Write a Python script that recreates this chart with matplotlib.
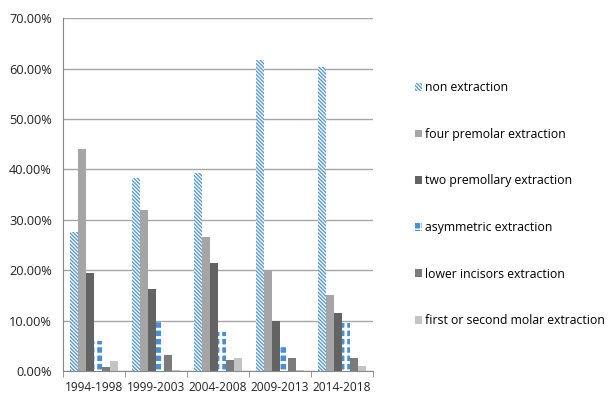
import numpy as np
import matplotlib.pyplot as plt
from matplotlib.ticker import FuncFormatter

plt.rcParams['font.family'] = ['Open Sans', 'DejaVu Sans']

# Share of each treatment type per 5-year period
periods = ['1994-1998', '1999-2003', '2004-2008', '2009-2013', '2014-2018']
non_extraction = [27.5, 38.3, 39.3, 61.7, 60.4]
four_premolar = [44.0, 32.0, 26.6, 20.0, 15.0]
two_premolar = [19.5, 16.2, 21.5, 10.0, 11.6]
asymmetric = [6.0, 9.7, 7.7, 5.2, 9.6]
lower_incisors = [0.8, 3.2, 2.2, 2.6, 2.6]
molar = [2.0, 0.2, 2.6, 0.2, 1.0]

labels = ['non extraction', 'four premolar extraction', 'two premollary extraction',
          'asymmetric extraction', 'lower incisors extraction',
          'first or second molar extraction']
series = [non_extraction, four_premolar, two_premolar, asymmetric,
          lower_incisors, molar]
styles = [
    dict(facecolor='white', edgecolor='#5b9bd5', hatch='\\' * 9, linewidth=0),
    dict(facecolor='#a5a5a5'),
    dict(facecolor='#636363'),
    dict(facecolor='#4a8fd4', edgecolor='white', hatch='++', linewidth=0),
    dict(facecolor='#7b7b7b'),
    dict(facecolor='#c4c4c4'),
]
hatch_lw = [1.0, 1.0, 1.0, 2.0, 1.0, 1.0]

fig = plt.figure(figsize=(6.09, 4.01), dpi=100)
ax = fig.add_axes([0.1034, 0.0748, 0.509, 0.880])

x = np.arange(len(periods))
w = 0.13
for i, (vals, lab, st) in enumerate(zip(series, labels, styles)):
    with plt.rc_context({'hatch.linewidth': hatch_lw[i]}):
        ax.bar(x + (i - 2.5) * w, np.array(vals) / 100, width=w, label=lab, **st)

ax.set_xlim(-0.5, len(periods) - 0.5)
ax.set_ylim(0, 0.70)
ax.set_yticks(np.arange(0, 0.71, 0.10))
ax.yaxis.set_major_formatter(FuncFormatter(lambda v, p: f'{v * 100:.2f}%'))
ax.set_xticks(x)
ax.set_xticklabels(periods)
ax.set_xticks(np.arange(-0.5, len(periods)), minor=True)
ax.tick_params(axis='x', which='major', length=0, labelsize=8.6, colors='#222222', pad=7)
ax.tick_params(axis='x', which='minor', length=4, color='#888888')
ax.tick_params(axis='y', length=0, labelsize=9.2, colors='#222222', pad=8)
ax.grid(axis='y', color='#a6a6a6', linewidth=1)
ax.set_axisbelow(True)
for s in ['top', 'right']:
    ax.spines[s].set_visible(False)
ax.spines['left'].set_color('#888888')
ax.spines['bottom'].set_color('#888888')

ax.legend(loc='upper left', bbox_to_anchor=(1.12, 0.835), frameon=False,
          fontsize=8.8, handlelength=0.6, handleheight=0.6, handletextpad=0.25,
          labelspacing=2.75, borderaxespad=0)

fig.savefig('out.png', dpi=100)
